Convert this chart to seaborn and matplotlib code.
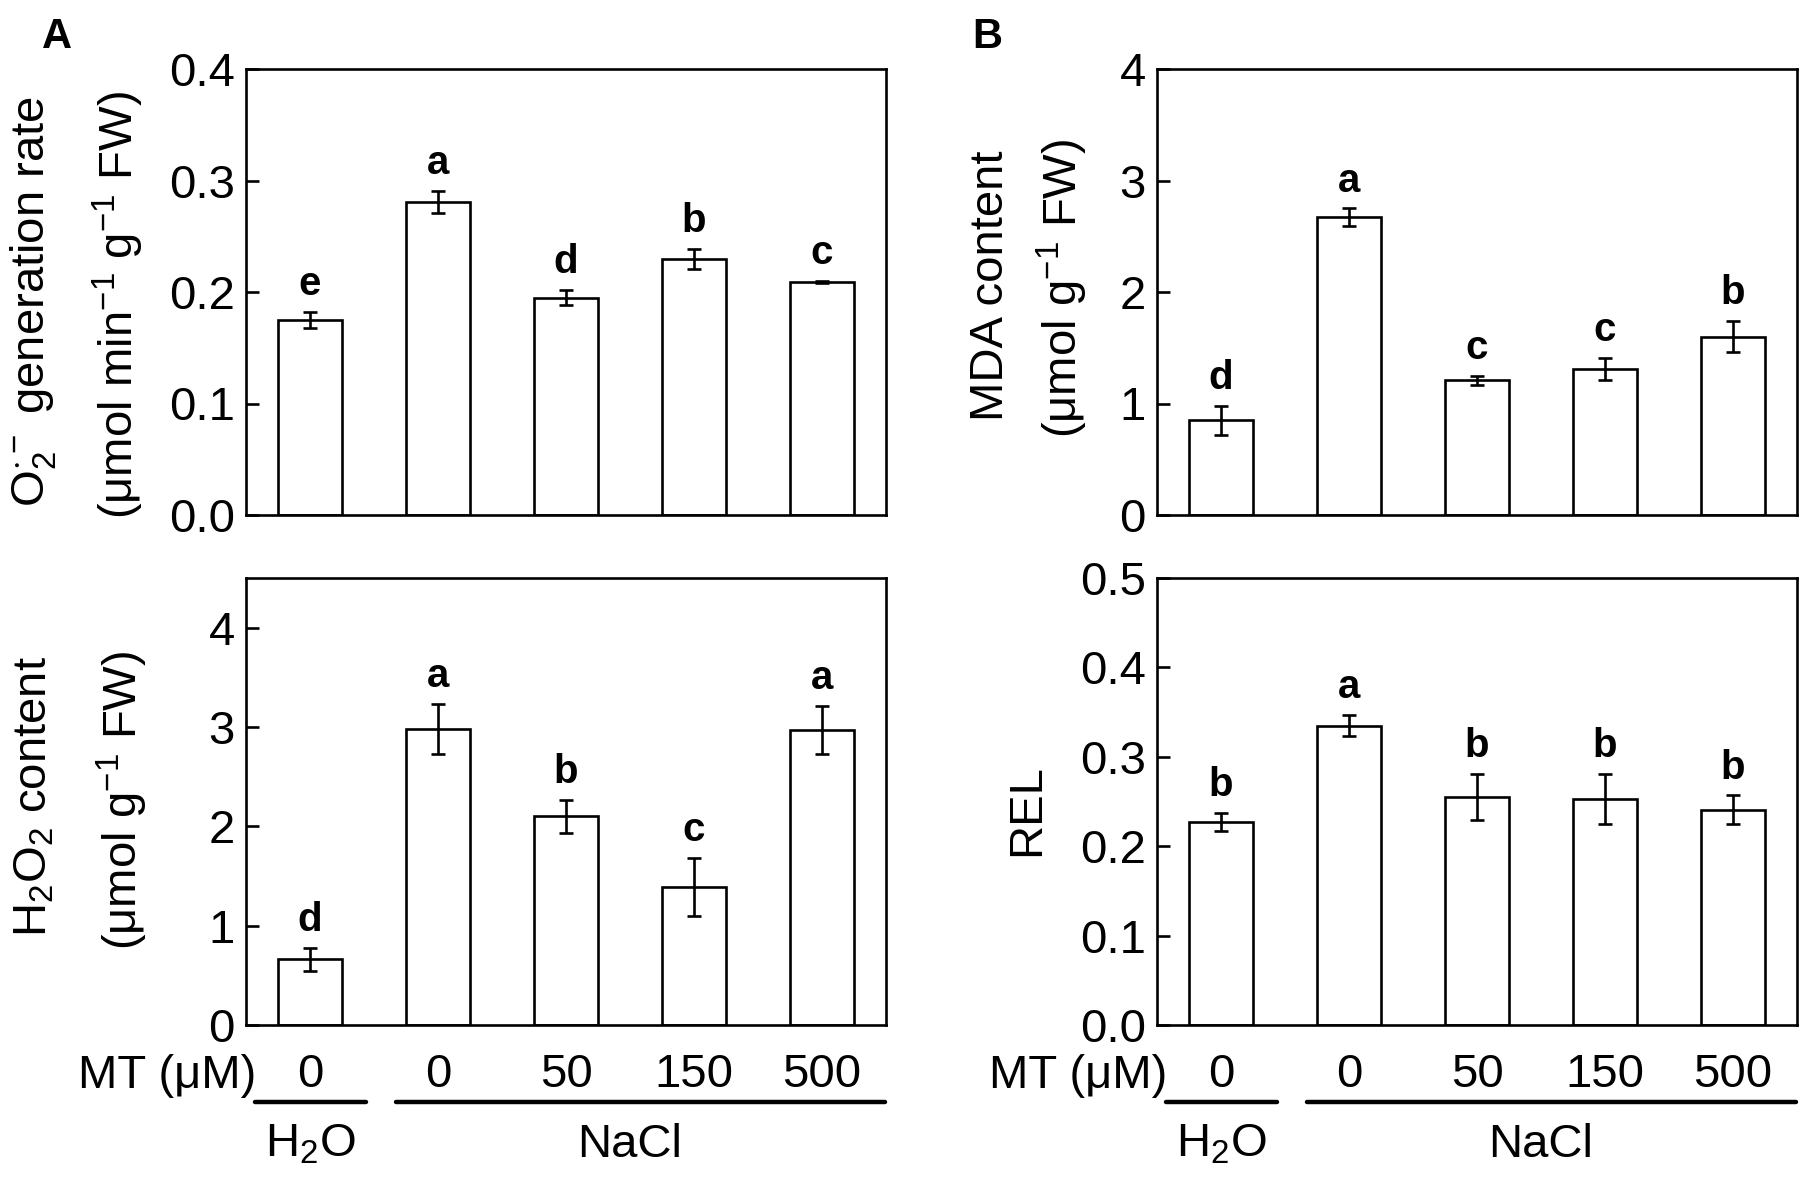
import numpy as np
import pandas as pd
import matplotlib
matplotlib.use('Agg')
import matplotlib.pyplot as plt
import seaborn as sns

# ---- data ----
groups = ['H2O-0', 'NaCl-0', 'NaCl-50', 'NaCl-150', 'NaCl-500']
mt_labels = ['0', '0', '50', '150', '500']

o2_mean = [0.175, 0.281, 0.195, 0.230, 0.209]
o2_err  = [0.007, 0.010, 0.007, 0.009, 0.001]
o2_sig  = ['e', 'a', 'd', 'b', 'c']

h2o2_mean = [0.66, 2.98, 2.10, 1.39, 2.97]
h2o2_err  = [0.12, 0.25, 0.17, 0.29, 0.24]
h2o2_sig  = ['d', 'a', 'b', 'c', 'a']

mda_mean = [0.85, 2.67, 1.21, 1.31, 1.60]
mda_err  = [0.13, 0.08, 0.04, 0.10, 0.14]
mda_sig  = ['d', 'a', 'c', 'c', 'b']

rel_mean = [0.227, 0.335, 0.255, 0.253, 0.241]
rel_err  = [0.010, 0.012, 0.026, 0.028, 0.016]
rel_sig  = ['b', 'a', 'b', 'b', 'b']

sns.set_style('ticks')
plt.rcParams['font.family'] = ['Liberation Sans', 'DejaVu Sans']
plt.rcParams['mathtext.default'] = 'regular'
for key in ['text.color', 'axes.labelcolor', 'axes.edgecolor',
            'xtick.color', 'ytick.color']:
    plt.rcParams[key] = 'black'

FS = 34
LW = 1.9
W, H = 1800, 1184
fig = plt.figure(figsize=(W / 100, H / 100), dpi=100)


def px_rect(left, top, right, bottom):
    return [left / W, 1 - bottom / H, (right - left) / W, (bottom - top) / H]


def panel(rect, mean, err, sig, ylim, yticks, yfmt, bottom_row):
    ax = fig.add_axes(rect)
    df = pd.DataFrame({'group': groups, 'value': mean})
    sns.barplot(data=df, x='group', y='value', order=groups, ax=ax,
                color='white', edgecolor='black', linewidth=LW,
                width=0.5, saturation=1, errorbar=None)
    ax.errorbar(np.arange(len(groups)), mean, yerr=err, fmt='none',
                ecolor='black', elinewidth=LW, capsize=5, capthick=LW)
    for i, (m, e, s) in enumerate(zip(mean, err, sig)):
        ax.annotate(s, (i, m + e), xytext=(0, 12), textcoords='offset points',
                    ha='center', va='baseline', fontsize=29, fontweight='bold')
    ax.set_xlim(-0.5, 4.5)
    ax.set_ylim(*ylim)
    ax.set_yticks(yticks)
    ax.set_yticklabels([yfmt.format(t) for t in yticks])
    ax.set_xlabel('')
    ax.set_ylabel('')
    for sp in ax.spines.values():
        sp.set_visible(True)
        sp.set_linewidth(LW)
        sp.set_color('black')
    ax.tick_params(axis='y', direction='in', length=9, width=LW,
                   labelsize=FS, pad=8)
    ax.tick_params(axis='x', direction='in', length=8, width=LW,
                   labelsize=FS, pad=20, labelbottom=bottom_row)
    if bottom_row:
        ax.set_xticks(range(len(groups)))
        ax.set_xticklabels(mt_labels)
        tr = ax.get_xaxis_transform()
        ax.text(-0.42, -0.141, 'MT (μM)', transform=tr, ha='right',
                va='baseline', fontsize=FS)
        ax.plot([-0.43, 0.44], [-0.172, -0.172], transform=tr, color='black',
                lw=3.2, clip_on=False, solid_capstyle='round')
        ax.plot([0.67, 4.49], [-0.172, -0.172], transform=tr, color='black',
                lw=3.2, clip_on=False, solid_capstyle='round')
        ax.text(0, -0.295, 'H$_2$O', transform=tr, ha='center',
                va='baseline', fontsize=FS)
        ax.text(2.5, -0.295, 'NaCl', transform=tr, ha='center',
                va='baseline', fontsize=FS)
    return ax


panel(px_rect(246, 69, 886, 515), o2_mean, o2_err, o2_sig,
      (0, 0.4), [0, 0.1, 0.2, 0.3, 0.4], '{:.1f}', False)
panel(px_rect(246, 578, 886, 1025), h2o2_mean, h2o2_err, h2o2_sig,
      (0, 4.5), [0, 1, 2, 3, 4], '{:d}', True)
panel(px_rect(1157, 69, 1797, 515), mda_mean, mda_err, mda_sig,
      (0, 4), [0, 1, 2, 3, 4], '{:d}', False)
panel(px_rect(1157, 578, 1797, 1025), rel_mean, rel_err, rel_sig,
      (0, 0.5), [0, 0.1, 0.2, 0.3, 0.4, 0.5], '{:.1f}', True)


def ylab(x_px, y_px, s):
    fig.text(x_px / W, 1 - y_px / H, s, rotation=90, rotation_mode='anchor',
             ha='center', va='baseline', fontsize=FS)


ylab(45, 302, r'O$_2^{\cdot -}$ generation rate')
ylab(133, 305, r'(μmol min$^{-1}$ g$^{-1}$ FW)')
ylab(47, 797, r'H$_2$O$_2$ content')
ylab(137, 800, r'(μmol g$^{-1}$ FW)')
ylab(1003, 286, 'MDA content')
ylab(1077, 288, r'(μmol g$^{-1}$ FW)')
ylab(1039, 810, 'REL')

fig.text(42 / W, 1 - 48 / H, 'A', fontsize=30, fontweight='bold',
         ha='left', va='baseline')
fig.text(972 / W, 1 - 48 / H, 'B', fontsize=30, fontweight='bold',
         ha='left', va='baseline')

fig.savefig('out.png', dpi=100)
